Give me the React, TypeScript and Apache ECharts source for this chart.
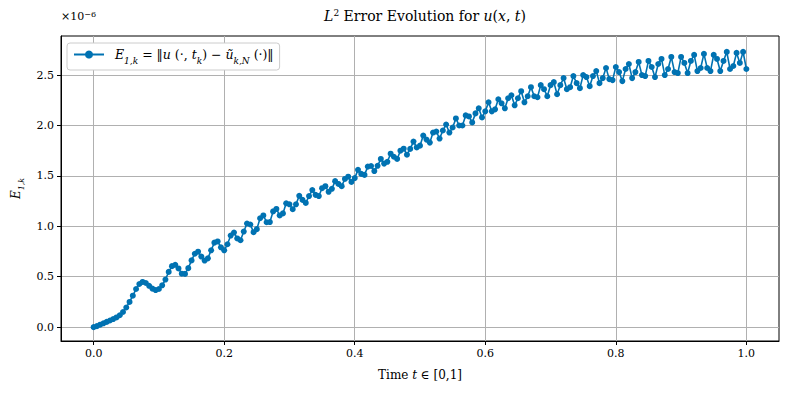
import React, { useEffect, useRef } from "react";
import * as echarts from "echarts";

// time samples t_k (k = 0..200, step 0.005)
const timeSteps: number[] = Array.from({ length: 201 }, (_, k) => +(k * 0.005).toFixed(3));

// E_{1,k} values, in units of 1e-6
const errorValues: number[] = [
  0.000, 0.010, 0.024, 0.038, 0.052, 0.066, 0.080, 0.096, 0.118, 0.150,
  0.195, 0.250, 0.312, 0.378, 0.428, 0.448, 0.438, 0.410, 0.382, 0.368,
  0.378, 0.415, 0.472, 0.548, 0.605, 0.618, 0.582, 0.530, 0.528, 0.585,
  0.662, 0.728, 0.748, 0.700, 0.660, 0.682, 0.762, 0.838, 0.850, 0.792,
  0.762, 0.822, 0.908, 0.938, 0.880, 0.862, 0.948, 1.028, 1.018, 0.942,
  0.972, 1.080, 1.108, 1.040, 1.042, 1.148, 1.172, 1.108, 1.128, 1.228,
  1.218, 1.170, 1.218, 1.302, 1.262, 1.232, 1.300, 1.360, 1.312, 1.300,
  1.378, 1.398, 1.342, 1.372, 1.448, 1.420, 1.398, 1.470, 1.492, 1.440,
  1.478, 1.560, 1.520, 1.510, 1.592, 1.598, 1.548, 1.600, 1.668, 1.622,
  1.640, 1.720, 1.690, 1.668, 1.750, 1.770, 1.710, 1.768, 1.840, 1.782,
  1.800, 1.900, 1.860, 1.830, 1.930, 1.940, 1.870, 1.950, 2.010, 1.930,
  1.980, 2.070, 2.000, 2.000, 2.100, 2.090, 2.030, 2.120, 2.170, 2.080,
  2.140, 2.230, 2.140, 2.160, 2.260, 2.220, 2.170, 2.270, 2.300, 2.200,
  2.270, 2.340, 2.230, 2.290, 2.380, 2.290, 2.280, 2.400, 2.360, 2.290,
  2.400, 2.430, 2.310, 2.400, 2.470, 2.360, 2.380, 2.490, 2.420, 2.370,
  2.500, 2.480, 2.390, 2.490, 2.540, 2.420, 2.470, 2.570, 2.460, 2.450,
  2.580, 2.530, 2.440, 2.560, 2.610, 2.470, 2.530, 2.630, 2.500, 2.490,
  2.640, 2.580, 2.480, 2.610, 2.660, 2.500, 2.560, 2.680, 2.530, 2.520,
  2.680, 2.620, 2.520, 2.640, 2.700, 2.540, 2.570, 2.710, 2.570, 2.540,
  2.700, 2.660, 2.540, 2.640, 2.730, 2.560, 2.590, 2.720, 2.620, 2.730,
  2.560,
];

const xTicks: number[] = [0, 0.2, 0.4, 0.6, 0.8, 1.0];
const yTicks: number[] = [0, 0.5, 1.0, 1.5, 2.0, 2.5];

const FONT = "'DejaVu Serif', 'Liberation Serif', serif";
const BLUE = "#0072B2";

export default function App() {
  const ref = useRef<HTMLDivElement>(null);
  useEffect(() => {
    if (!ref.current) return;
    const chart = echarts.init(ref.current, undefined, { renderer: "svg" });
    const italic = { fontFamily: FONT, fontStyle: "italic" as const, fontSize: 12, color: "#000" };
    const sub = { fontFamily: FONT, fontStyle: "italic" as const, fontSize: 8, color: "#000", verticalAlign: "bottom" as const, padding: [0, 0, -4, 0] };
    const plain = { fontFamily: FONT, fontSize: 12, color: "#000" };
    const lItalic = { ...italic, fontSize: 12.5 };
    const lPlain = { ...plain, fontSize: 12.5 };
    const lSub = { ...sub, fontSize: 9, padding: [0, 0, -4, 0] };
    chart.setOption({
      animation: false,
      backgroundColor: "#fff",
      title: {
        text: "{i|L}{sup|2}{n| Error Evolution for }{i|u}{n|(}{i|x}{n|, }{i|t}{n|)}",
        left: 420,
        top: 3,
        textAlign: "center",
        textStyle: {
          fontFamily: FONT,
          fontSize: 14,
          fontWeight: "normal",
          color: "#000",
          rich: {
            i: { fontFamily: FONT, fontStyle: "italic", fontSize: 14, color: "#000" },
            n: { fontFamily: FONT, fontSize: 14, color: "#000" },
            sup: { fontFamily: FONT, fontSize: 9, color: "#000", verticalAlign: "top", padding: [0, 0, 6, 0] },
          },
        },
      },
      graphic: [
        {
          type: "text",
          left: 61,
          top: 10,
          style: {
            text: "{b|×10}{s|−6}",
            rich: {
              b: { fontFamily: FONT, fontSize: 11, fill: "#000" },
              s: { fontFamily: FONT, fontSize: 8, fill: "#000", verticalAlign: "top", padding: [0, 0, 5, 0] },
            },
          } as any,
        },
      ],
      legend: {
        left: 67,
        top: 43,
        padding: [5, 6, 5, 6],
        itemWidth: 30,
        itemHeight: 10,
        itemGap: 8,
        backgroundColor: "#fff",
        borderColor: "#cccccc",
        borderWidth: 1,
        borderRadius: 3,
        formatter: () =>
          "{i|E}{s|1,k}{n| = ‖}{i|u}{n| (·, }{i|t}{s|k}{n|) − }{i|ũ}{s|k,N}{n| (·)‖}",
        textStyle: {
          fontFamily: FONT,
          fontSize: 12.5,
          color: "#000",
          padding: [0, 0, 0, 6],
          rich: { i: lItalic, n: lPlain, s: lSub },
        },
      },
      grid: {
        left: 61,
        right: 14,
        top: 36,
        bottom: 56,
        show: true,
        borderColor: "#000",
        borderWidth: 1,
        backgroundColor: "transparent",
      },
      xAxis: {
        type: "value",
        min: -0.05,
        max: 1.05,
        name: "Time {i|t}{n| ∈ [0,1]}",
        nameLocation: "middle",
        nameGap: 28,
        nameTextStyle: {
          fontFamily: FONT,
          fontSize: 12,
          color: "#000",
          rich: { i: italic, n: plain },
        },
        axisLine: { show: true, onZero: false, lineStyle: { color: "#000", width: 1 } },
        axisTick: { show: true, inside: false, length: 4, lineStyle: { color: "#000" }, customValues: xTicks },
        axisLabel: {
          customValues: xTicks,
          formatter: (v: number) => v.toFixed(1),
          fontFamily: FONT,
          fontSize: 11,
          color: "#000",
          margin: 7,
        },
        splitLine: { show: true, lineStyle: { color: "#b0b0b0", width: 1 } },
      },
      yAxis: {
        type: "value",
        min: -0.1375,
        max: 2.8875,
        name: "{i|E}{s|1,k}",
        nameLocation: "middle",
        nameRotate: 90,
        nameGap: 38,
        nameTextStyle: {
          fontFamily: FONT,
          fontSize: 12,
          color: "#000",
          rich: { i: italic, s: sub },
        },
        axisLine: { show: true, onZero: false, lineStyle: { color: "#000", width: 1 } },
        axisTick: { show: true, inside: false, length: 4, lineStyle: { color: "#000" }, customValues: yTicks },
        axisLabel: {
          customValues: yTicks,
          formatter: (v: number) => v.toFixed(1),
          fontFamily: FONT,
          fontSize: 11,
          color: "#000",
          margin: 7,
        },
        splitLine: { show: true, lineStyle: { color: "#b0b0b0", width: 1 } },
      },
      series: [
        {
          type: "line",
          name: "E",
          data: timeSteps.map((t, k) => [t, errorValues[k]]),
          symbol: "circle",
          symbolSize: 6,
          showSymbol: true,
          showAllSymbol: true,
          lineStyle: { color: BLUE, width: 1.6 },
          itemStyle: { color: BLUE },
          emphasis: { disabled: true },
        },
      ],
    });
    return () => chart.dispose();
  }, []);
  return (
    <div
      ref={ref}
      style={{ position: "fixed", left: 0, top: 0, width: 793, height: 397 }}
    />
  );
}
